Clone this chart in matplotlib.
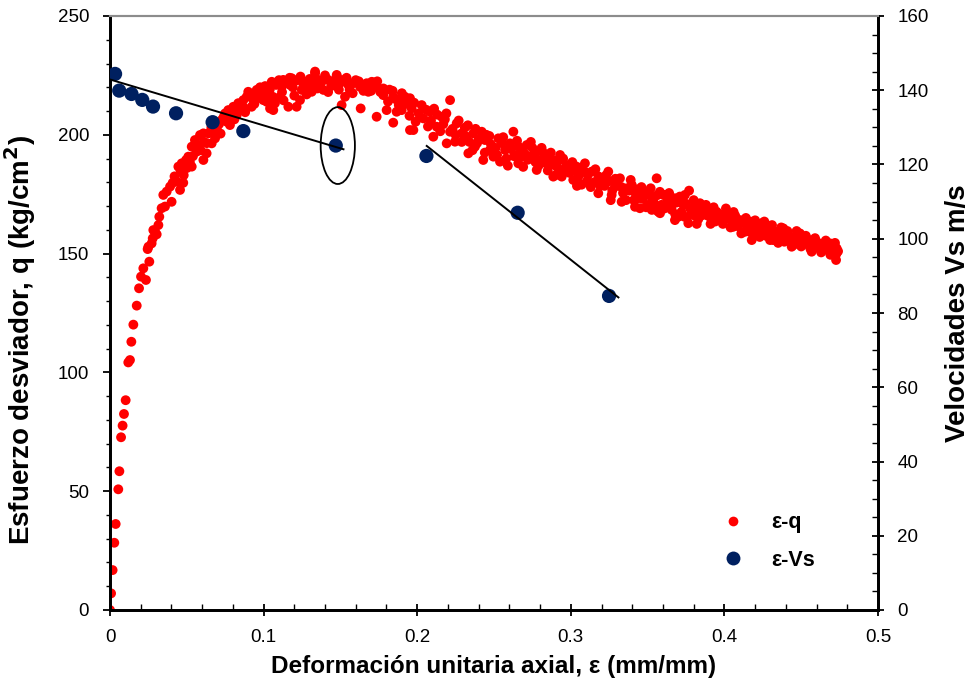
import matplotlib
matplotlib.use("Agg")
import matplotlib.pyplot as plt
from matplotlib.ticker import MultipleLocator
from matplotlib.patches import Ellipse
from matplotlib.lines import Line2D

plt.rcParams['font.family'] = ['Liberation Sans', 'DejaVu Sans']

# Triaxial test: axial strain vs deviator stress
strain_q = [
    0.0, 0.0007, 0.0017, 0.0028, 0.0037, 0.0054, 0.0061, 0.0072, 0.0082, 0.0091,
    0.0102, 0.0119, 0.013, 0.0139, 0.0152, 0.0174, 0.0189, 0.0202, 0.0234, 0.0217,
    0.0256, 0.0245, 0.0271, 0.0278, 0.0304, 0.0282, 0.025, 0.0293, 0.0315, 0.0321,
    0.0336, 0.0358, 0.0347, 0.0369, 0.0401, 0.0391, 0.0408, 0.0434, 0.0456, 0.0477,
    0.0445, 0.0467, 0.0495, 0.051, 0.0532, 0.0532, 0.0564, 0.0553, 0.0586, 0.0608,
    0.0629, 0.0608, 0.0662, 0.064, 0.0684, 0.0695, 0.0727, 0.0749, 0.0781, 0.077,
    0.0803, 0.0825, 0.0846, 0.0835, 0.0868, 0.089, 0.09, 0.0922, 0.0933, 0.0955,
    0.0977, 0.0998, 0.102, 0.1031, 0.1063, 0.1053, 0.1074, 0.1107, 0.1118, 0.1128,
    0.1161, 0.1183, 0.1172, 0.1215, 0.1237, 0.1248, 0.127, 0.1291, 0.1313, 0.1335,
    0.1356, 0.1389, 0.1421, 0.1476, 0.1497, 0.153, 0.1508, 0.1552, 0.1584, 0.1628,
    0.1632, 0.1671, 0.1704, 0.1682, 0.1736, 0.1736, 0.1779, 0.1801, 0.1844, 0.1844,
    0.1866, 0.1335, 0.1476, 0.1953, 0.1899, 0.1042,
    0.1888, 0.1953, 0.1964, 0.1975, 0.2029, 0.204, 0.2083, 0.2105, 0.2127, 0.2159,
    0.2214, 0.2192, 0.2214, 0.2246, 0.2257, 0.229, 0.2322, 0.2333, 0.2376, 0.2365,
    0.242, 0.243, 0.2441, 0.2474, 0.2496, 0.2528, 0.2539, 0.2572, 0.2604, 0.2626,
    0.2637, 0.2658, 0.268, 0.2713, 0.2734, 0.2767, 0.2778, 0.2799, 0.2843, 0.2865,
    0.2886, 0.2919, 0.2941, 0.2973,
    0.293, 0.2941, 0.3016, 0.3038, 0.3092, 0.3103, 0.3136, 0.3179, 0.3201, 0.3244,
    0.3266, 0.3288, 0.332, 0.3331, 0.3364, 0.3397, 0.3418, 0.344, 0.3483, 0.3505,
    0.3527, 0.3559, 0.357, 0.3602, 0.3624, 0.3657, 0.3678, 0.37, 0.3743, 0.3733,
    0.3776, 0.3798, 0.3841, 0.3874, 0.3906, 0.395, 0.3993, 0.4015,
    0.345, 0.345, 0.3527, 0.3581, 0.3613, 0.3678, 0.3722, 0.3765, 0.3798, 0.3885,
    0.3917, 0.395, 0.4015, 0.4058, 0.4102, 0.4134, 0.4178, 0.4178, 0.4232, 0.4275,
    0.4318, 0.434, 0.4384, 0.4427, 0.4449, 0.4492, 0.4536, 0.4568, 0.4601, 0.4644,
    0.4688, 0.4698, 0.4731, 0.4727,
    0.3971, 0.4058, 0.4167, 0.4243, 0.4297, 0.4384, 0.4438, 0.4568, 0.4688,
    0.048, 0.052, 0.057, 0.061, 0.066, 0.071, 0.074, 0.079, 0.083, 0.087,
    0.092, 0.096,
    0.100, 0.104, 0.108, 0.112, 0.115, 0.119, 0.122, 0.126, 0.130, 0.137,
    0.140, 0.144, 0.151, 0.156, 0.160, 0.165, 0.172, 0.176, 0.182, 0.186,
    0.190, 0.193,
    0.198, 0.201, 0.206, 0.209, 0.213, 0.217, 0.219, 0.223, 0.227, 0.231,
    0.234, 0.238, 0.240, 0.245, 0.248, 0.251, 0.255, 0.258, 0.261, 0.265,
    0.267, 0.270, 0.275, 0.277, 0.282, 0.285, 0.288, 0.291, 0.295, 0.299,
    0.302, 0.305, 0.307, 0.311, 0.315, 0.318, 0.322, 0.325, 0.327, 0.330,
    0.334, 0.338, 0.341, 0.343, 0.347, 0.350, 0.354, 0.356, 0.359, 0.363,
    0.366, 0.369, 0.372, 0.375, 0.378, 0.381, 0.383, 0.386, 0.389, 0.392,
    0.394, 0.397,
    0.403, 0.407, 0.409, 0.412, 0.415, 0.419, 0.421, 0.425, 0.427, 0.430,
    0.433, 0.436, 0.440, 0.442, 0.446, 0.448, 0.451, 0.455, 0.458, 0.462,
    0.465, 0.467, 0.471, 0.474,
]
stress_q = [
    0.0, 7.0, 16.8, 28.3, 36.2, 50.8, 58.4, 72.7, 77.6, 82.5,
    88.3, 104.2, 105.2, 112.9, 120.1, 128.1, 135.4, 140.3, 138.9, 143.8,
    146.6, 151.9, 154.3, 156.4, 158.1, 159.9, 152.9, 159.2, 162.0, 165.5,
    169.1, 169.8, 174.7, 176.1, 171.8, 178.2, 179.8, 180.3, 176.8, 179.8,
    186.6, 188.0, 189.4, 190.8, 186.6, 195.0, 192.9, 197.8, 199.9, 189.4,
    192.2, 200.6, 196.4, 200.6, 198.5, 202.7, 206.2, 209.0, 204.1, 210.4,
    211.8, 208.3, 210.4, 213.3, 214.6, 216.0, 218.1, 211.8, 214.6, 218.9,
    220.0, 214.6, 213.9, 216.7, 210.4, 222.3, 213.3, 216.0, 220.2, 223.1,
    211.8, 223.8, 221.0, 211.8, 214.6, 218.9, 222.3, 219.6, 218.1, 225.9,
    223.1, 218.9, 223.1, 224.5, 221.7, 216.0, 212.5, 221.0, 221.7, 220.2,
    211.1, 221.7, 222.3, 218.1, 220.2, 207.6, 216.7, 210.4, 216.0, 205.1,
    209.7, 226.6, 225.2, 202.0, 210.4, 211.1,
    213.9, 215.4, 211.1, 202.0, 212.5, 206.9, 209.7, 199.2, 203.4, 207.6,
    214.6, 196.4, 201.3, 197.1, 204.8, 200.6, 199.2, 192.2, 195.0, 200.6,
    201.3, 189.4, 197.8, 193.6, 190.8, 198.5, 188.7, 193.6, 196.4, 201.3,
    191.5, 188.0, 193.6, 195.7, 190.8, 192.2, 185.2, 189.4, 191.5, 187.3,
    182.4, 189.4, 185.2, 187.3,
    189.4, 182.4, 181.0, 186.6, 188.0, 180.3, 184.5, 175.4, 181.0, 184.5,
    174.7, 178.2, 181.7, 171.8, 177.5, 178.9, 169.7, 173.3, 176.1, 170.5,
    173.9, 181.7, 167.6, 174.7, 171.2, 168.4, 173.3, 165.5, 174.7, 170.5,
    169.1, 166.2, 171.2, 168.4, 165.5, 167.6, 165.5, 167.0,
    175.4, 169.1, 168.4, 167.0, 174.7, 164.1, 173.3, 162.8, 169.1, 167.0,
    165.5, 164.1, 166.2, 162.8, 164.1, 159.2, 163.4, 155.7, 162.0, 162.0,
    155.7, 159.2, 159.9, 157.1, 153.6, 158.5, 156.4, 151.5, 155.0, 152.9,
    153.6, 150.8, 152.2, 147.3,
    165.5, 161.3, 163.4, 162.8, 155.7, 160.6, 152.9, 150.8, 154.3,
    183.0, 188.5, 195.5, 197.0, 203.0, 204.5, 207.5, 208.5, 211.0, 211.5,
    216.5, 215.5,
    217.0, 219.0, 221.0, 218.0, 222.5, 220.0, 223.0, 221.0, 223.5, 221.5,
    225.0, 220.5, 223.0, 219.0, 223.0, 218.5, 222.0, 218.0, 219.0, 215.0,
    217.5, 213.0,
    213.5, 209.0, 210.5, 206.0, 208.5, 204.5, 209.0, 202.5, 206.0, 203.0,
    197.0, 202.5, 198.0, 200.0, 196.0, 194.5, 196.5, 190.0, 194.0, 197.5,
    190.5, 192.0, 194.5, 188.5, 192.5, 185.0, 189.5, 186.5, 190.0, 184.0,
    185.0, 182.5, 179.0, 183.0, 180.0, 182.5, 178.5, 180.5, 176.5, 179.5,
    175.5, 176.5, 172.5, 177.0, 173.0, 175.0, 171.5, 174.5, 170.5, 173.0,
    170.5, 171.5, 167.5, 171.0, 166.5, 168.5, 164.5, 168.5, 166.0, 167.5,
    163.5, 166.5,
    164.5, 166.0, 161.5, 163.0, 161.0, 161.5, 158.5, 160.5, 157.5, 160.5,
    158.5, 156.5, 157.5, 155.5, 157.0, 154.5, 156.0, 153.5, 155.0, 152.0,
    154.5, 151.5, 153.5, 151.0,
]

# Further readings, by stage of the test
strain_rise = [0.042, 0.046, 0.05, 0.054, 0.059, 0.063, 0.068, 0.072, 0.076,
               0.081, 0.085, 0.088, 0.094, 0.098]
stress_rise = [182.5, 185, 186, 191, 193.5, 196.5, 201.5, 200.5, 205.5,
               206.5, 213, 209.5, 213, 218.5]

strain_peak = [0.101, 0.106, 0.11, 0.113, 0.117, 0.12, 0.124, 0.128, 0.132,
               0.135, 0.139, 0.142, 0.146, 0.149, 0.154, 0.158, 0.162, 0.167,
               0.17, 0.174, 0.178, 0.181, 0.184, 0.188, 0.192]
stress_peak = [220.5, 216, 223, 214.5, 224, 216.5, 224.5, 217, 221,
               219.5, 223, 218, 222.5, 219, 224, 217.5, 222.5, 220,
               218.5, 222.5, 219.5, 214, 218.5, 212.5, 216]

strain_soft = [0.195, 0.199, 0.207, 0.211, 0.215, 0.218, 0.225, 0.229, 0.233,
               0.236, 0.239, 0.244, 0.247, 0.252, 0.256, 0.259, 0.263, 0.266,
               0.269, 0.272, 0.274, 0.279, 0.281, 0.284, 0.287, 0.29, 0.293,
               0.297]
stress_soft = [208, 205.5, 203.5, 211, 201.5, 206.5, 200, 197, 204,
               193.5, 196.5, 192.5, 199.5, 191.5, 199, 187, 191, 195,
               186.5, 189.5, 197, 187, 194.5, 188, 192.5, 183, 191.5,
               185.5]

strain_late = [0.301, 0.304, 0.306, 0.309, 0.313, 0.316, 0.319, 0.323, 0.326,
               0.329, 0.333, 0.336, 0.339, 0.342, 0.346, 0.349, 0.352, 0.355,
               0.358, 0.361, 0.364, 0.368, 0.371, 0.374, 0.377, 0.38, 0.382,
               0.385, 0.388, 0.391, 0.393, 0.396, 0.399]
stress_late = [188.5, 178.5, 186, 184.5, 178, 185.5, 178.5, 183, 172.5,
               181.5, 178, 172.5, 181, 175.5, 178, 169.5, 177.5, 168.5,
               176, 169, 175.5, 166.5, 174, 165.5, 176.5, 172.5, 162.5,
               166, 170.5, 162.5, 169.5, 165, 162.5]

strain_end = [0.401, 0.404, 0.406, 0.408, 0.411, 0.414, 0.417, 0.42, 0.423,
              0.426, 0.429, 0.431, 0.435, 0.437, 0.439, 0.441, 0.444, 0.447,
              0.45, 0.453, 0.456, 0.459, 0.461, 0.463, 0.466, 0.469, 0.472,
              0.473]
stress_end = [169, 161, 167.5, 163.5, 158.5, 165, 159, 164, 157,
              163.5, 158.5, 162, 154.5, 161, 155, 159.5, 156, 159.5,
              153, 157.5, 152, 156.5, 154, 150.5, 155.5, 149.5, 154.5,
              150]

all_strain = strain_q + strain_rise + strain_peak + strain_soft + strain_late + strain_end
all_stress = stress_q + stress_rise + stress_peak + stress_soft + stress_late + stress_end

# Shear-wave velocity measurements
strain_vs = [0.0033, 0.006, 0.014, 0.021, 0.028, 0.043, 0.0668, 0.0868,
             0.147, 0.206, 0.2654, 0.3249]
vel_vs = [144.4, 139.9, 139.0, 137.4, 135.6, 133.8, 131.4, 129.0,
          125.1, 122.3, 107.0, 84.6]

# Trend lines over the velocity points
trend_a_x = [0.0, 0.152]
trend_a_v = [142.9, 124.1]
trend_b_x = [0.2062, 0.331]
trend_b_v = [125.0, 84.2]

RED = '#FF0000'
NAVY = '#002060'

fig = plt.figure(figsize=(9.72, 6.91), dpi=100)
ax = fig.add_axes([110 / 972, 81 / 691, 768 / 972, 594 / 691])

ax.scatter(all_strain, all_stress, s=50, color=RED, edgecolors='none', zorder=2)
ax.set_xlim(0, 0.5)
ax.set_ylim(0, 250)

ax2 = ax.twinx()
ax2.set_ylim(0, 160)
ax2.scatter(strain_vs, vel_vs, s=105, color=NAVY, edgecolors='none', zorder=3)
ax2.plot(trend_a_x, trend_a_v, color='black', lw=1.4, zorder=4)
ax2.plot(trend_b_x, trend_b_v, color='black', lw=1.4, zorder=4)
ax2.add_patch(Ellipse((0.1483, 125.1), 0.0223, 20.7, facecolor='none',
                      edgecolor='black', lw=1.3, zorder=4))

# Spines
for a in (ax, ax2):
    a.spines['top'].set_color('#8c8c8c')
    a.spines['top'].set_linewidth(1.5)
    for side in ('left', 'right', 'bottom'):
        a.spines[side].set_color('black')
        a.spines[side].set_linewidth(2.0)

# Ticks
ax.xaxis.set_major_locator(MultipleLocator(0.1))
ax.xaxis.set_minor_locator(MultipleLocator(0.02))
ax.yaxis.set_major_locator(MultipleLocator(50))
ax.yaxis.set_minor_locator(MultipleLocator(10))
ax2.yaxis.set_major_locator(MultipleLocator(20))
ax2.yaxis.set_minor_locator(MultipleLocator(5))

TICK_FS = 13.5
ax.tick_params(axis='x', which='major', direction='inout', length=8, width=1.3,
               pad=10, labelsize=TICK_FS)
ax.tick_params(axis='x', which='minor', direction='in', length=4, width=1.0)
ax.tick_params(axis='y', which='major', direction='out', length=5, width=1.3,
               pad=10, labelsize=TICK_FS)
ax.tick_params(axis='y', which='minor', direction='out', length=3, width=1.0)
ax2.tick_params(axis='y', which='major', direction='inout', length=8, width=1.3,
                pad=10, labelsize=TICK_FS)
ax2.tick_params(axis='y', which='minor', direction='in', length=4, width=1.0)

ax.xaxis.set_major_formatter(plt.FuncFormatter(lambda v, p: f'{v:g}'))

# Labels
ax.set_xlabel('Deformación unitaria axial, ε (mm/mm)', fontsize=17.5, fontweight='bold')
ax.set_ylabel('Esfuerzo desviador, q (kg/cm$^{\\mathbf{2}}$)', fontsize=20,
              fontweight='bold')
ax2.set_ylabel('Velocidades Vs m/s', fontsize=20, fontweight='bold')
ax.xaxis.set_label_coords(0.5, -0.076)
ax.yaxis.set_label_coords(-0.094, 0.455)
ax2.yaxis.set_label_coords(1.087, 0.5)

# Legend
handles = [
    Line2D([], [], marker='o', linestyle='none', markersize=7,
           markerfacecolor=RED, markeredgecolor='none', label='ε-q'),
    Line2D([], [], marker='o', linestyle='none', markersize=10,
           markerfacecolor=NAVY, markeredgecolor='none', label='ε-Vs'),
]
leg = ax2.legend(handles=handles, loc='upper left', frameon=False,
                 bbox_to_anchor=(692 / 972, 1 - 493 / 691),
                 bbox_transform=fig.transFigure, handletextpad=0.8,
                 labelspacing=0.75, prop={'size': 15.5, 'weight': 'bold'})

fig.savefig('out.png', dpi=100)
